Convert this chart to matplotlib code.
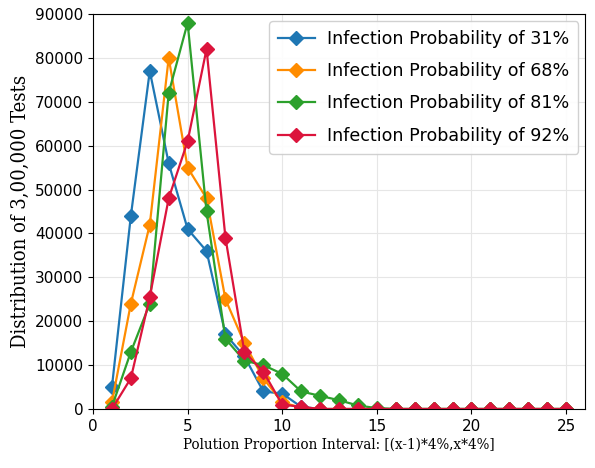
import matplotlib.pyplot as plt

x = list(range(1, 26))

p31 = [5000, 44000, 77000, 56000, 41000, 36000, 17000, 12000, 4000, 3500, 500] + [0] * 14
p68 = [1500, 24000, 42000, 80000, 55000, 48000, 25000, 15000, 7000, 1500, 300] + [0] * 14
p81 = [500, 13000, 24000, 72000, 88000, 45000, 16000, 11000, 10000, 8000, 4000,
       3000, 2000, 800, 200] + [0] * 10
p92 = [0, 7000, 25500, 48000, 61000, 82000, 39000, 13000, 8500, 1000, 500] + [0] * 14

labels = ["Infection Probability of 31%", "Infection Probability of 68%",
          "Infection Probability of 81%", "Infection Probability of 92%"]
colors = ["#1f77b4", "#ff8c00", "#2ca02c", "#dc143c"]

fig = plt.figure(figsize=(5.95, 4.68), dpi=100)
ax = fig.add_axes([93 / 595, 1 - 409 / 468, 492 / 595, 395 / 468])

for ys, lab, c in zip([p31, p68, p81, p92], labels, colors):
    ax.plot(x, ys, color=c, marker="D", markersize=7.5, linewidth=1.6, label=lab)

ax.set_xlim(0, 26)
ax.set_ylim(0, 90000)
ax.set_xticks([0, 5, 10, 15, 20, 25])
ax.set_yticks(range(0, 90001, 10000))
ax.tick_params(labelsize=11)
ax.grid(True, color="#e6e6e6", linewidth=0.8)
ax.set_axisbelow(True)

ax.set_xlabel("Polution Proportion Interval: [(x-1)*4%,x*4%]",
              family="DejaVu Serif", fontstretch="condensed", fontsize=10.8,
              labelpad=3)
ax.set_ylabel("Distribution of 3,00,000 Tests", family="DejaVu Serif",
              fontstretch="condensed", fontsize=14.5, labelpad=4)

ax.legend(loc="upper right", fontsize=12.6, handlelength=2.1, handletextpad=0.7,
          borderpad=0.5, labelspacing=0.82, borderaxespad=0.4, framealpha=0.9)

fig.savefig("out.png", dpi=100)
